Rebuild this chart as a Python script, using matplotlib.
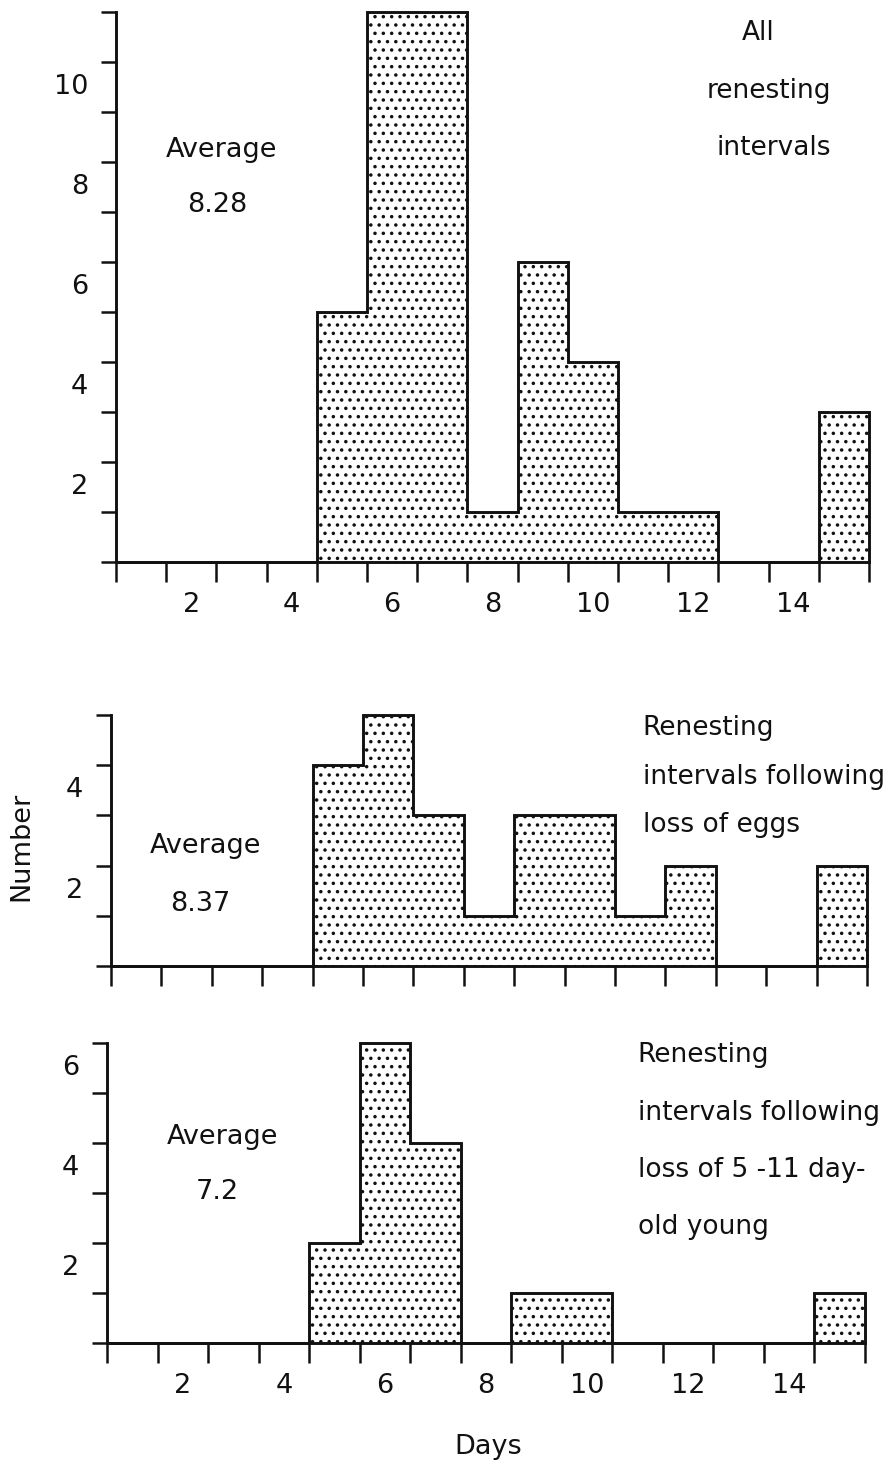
import matplotlib
matplotlib.use("Agg")
import matplotlib.pyplot as plt
import numpy as np


# renesting interval in days (bin centres) and the number of nests per bin
DAYS = list(range(1, 16))
ALL_COUNTS = [0, 0, 0, 0, 5, 11, 11, 1, 6, 4, 1, 1, 0, 0, 3]
EGG_COUNTS = [0, 0, 0, 0, 4, 5, 3, 1, 3, 3, 1, 2, 0, 0, 2]
YOUNG_COUNTS = [0, 0, 0, 0, 2, 6, 4, 0, 1, 1, 0, 0, 0, 0, 1]

AVERAGES = ["8.28", "8.37", "7.2"]
CAPTIONS = [
    ["All", "renesting", "intervals"],
    ["Renesting", "intervals following", "loss of eggs"],
    ["Renesting", "intervals following", "loss of 5 -11 day-", "old young"],
]
X_TICK_LABELS = [2, 4, 6, 8, 10, 12, 14]
Y_TICK_LABELS = [[2, 4, 6, 8, 10], [2, 4], [2, 4, 6]]
Y_TOPS = [11, 5, 6]

FS = 19.5
CAP_FS = 19
LW = 2.1
INK = "#111111"

plt.rcParams["font.family"] = ["DejaVu Sans"]
plt.rcParams["hatch.linewidth"] = 1.3
plt.rcParams["text.color"] = INK

EDGES = np.array(DAYS, dtype=float) - 0.5
EDGES = np.append(EDGES, DAYS[-1] + 0.5)


def draw_panel(ax, counts, ytop, ylabels, show_xlabels):
    ax.stairs(counts, EDGES, fill=True, facecolor="white", edgecolor=INK,
              hatch="..", linewidth=LW, clip_on=False)
    ax.set_xlim(EDGES[0], EDGES[-1])
    ax.set_ylim(0, ytop)
    for side in ("top", "right"):
        ax.spines[side].set_visible(False)
    for side in ("left", "bottom"):
        ax.spines[side].set_linewidth(LW)
        ax.spines[side].set_color(INK)
    ax.set_xticks(EDGES)
    ax.set_yticks(range(ytop + 1))
    ax.tick_params(axis="x", direction="out", length=14.5, width=1.8, color=INK,
                   labelbottom=False)
    ax.tick_params(axis="y", direction="out", length=11, width=1.8, color=INK,
                   labelleft=False)
    ax.patch.set_alpha(0)
    # numbers on the count axis sit half a step below their tick
    for v in ylabels:
        ax.annotate(str(v), xy=(0, v - 0.5), xycoords=("axes fraction", "data"),
                    xytext=(-20, 0), textcoords="offset points",
                    ha="right", va="center", fontsize=FS)
    if show_xlabels:
        for v in X_TICK_LABELS:
            ax.annotate(str(v), xy=(v, 0), xycoords=("data", "axes fraction"),
                        xytext=(0, -31), textcoords="offset points",
                        ha="center", va="center", fontsize=FS)


def add_text(ax, avg_xy, avg, cap_xy, caps, cap_step, cap_ha):
    ax.text(avg_xy[0], avg_xy[1], "Average", ha="center", va="center", fontsize=FS)
    ax.text(avg_xy[0] - 0.1, avg_xy[1] - avg_xy[2], avg, ha="center", va="center",
            fontsize=FS)
    for i, line in enumerate(caps):
        ax.text(cap_xy[0] if cap_ha == "left" else cap_xy[0] + cap_xy[2][i],
                cap_xy[1] - i * cap_step, line, ha=cap_ha, va="center",
                fontsize=CAP_FS)


W, H = 892, 1466
fig = plt.figure(figsize=(W / 100, H / 100), dpi=100)
fig.patch.set_facecolor("white")


def px_axes(x0, x1, y_top, y_bottom):
    return fig.add_axes([x0 / W, 1 - y_bottom / H, (x1 - x0) / W, (y_bottom - y_top) / H])


ax_all = px_axes(116, 869, 12, 562)
ax_egg = px_axes(111, 867, 715, 966)
ax_young = px_axes(107, 865, 1043, 1343)

draw_panel(ax_all, ALL_COUNTS, Y_TOPS[0], Y_TICK_LABELS[0], True)
draw_panel(ax_egg, EGG_COUNTS, Y_TOPS[1], Y_TICK_LABELS[1], False)
draw_panel(ax_young, YOUNG_COUNTS, Y_TOPS[2], Y_TICK_LABELS[2], True)

add_text(ax_all, (2.61, 8.24, 1.1), AVERAGES[0],
         (13.4, 10.58, [-0.1, 0.1, 0.2]), CAPTIONS[0], 1.15, "center")
add_text(ax_egg, (2.38, 2.39, 1.15), AVERAGES[1],
         (11.05, 4.74, None), CAPTIONS[1], 0.97, "left")
add_text(ax_young, (2.78, 4.12, 1.1), AVERAGES[2],
         (11.0, 5.76, None), CAPTIONS[2], 1.15, "left")

fig.text(21 / W, 1 - 846 / H, "Number", rotation=90, ha="center", va="center",
         fontsize=FS)
fig.text(488 / W, 1 - 1447 / H, "Days", ha="center", va="center", fontsize=FS)

fig.savefig("out.png", dpi=100, facecolor="white")
